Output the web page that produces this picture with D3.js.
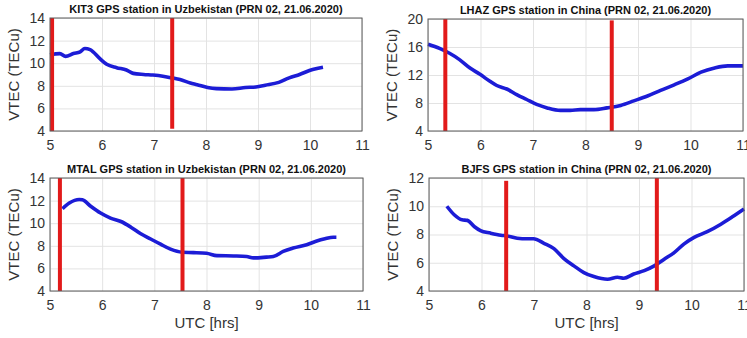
<!DOCTYPE html>
<html>
<head>
<meta charset="utf-8">
<script src="https://cdn.jsdelivr.net/npm/d3@7"></script>
<style>
  body { margin: 0; background: #fff; }
  svg { display: block; font-family: "Liberation Sans", Arial, sans-serif; }
  .grid line { stroke: #e3e3e3; stroke-width: 1; }
  .tick text { fill: #333; font-size: 14px; }
</style>
</head>
<body>
<script>
// KIT3 (Uzbekistan)
var kit3T = [5.0, 5.19, 5.3, 5.45, 5.58, 5.67, 5.77, 5.96, 6.09, 6.28, 6.47, 6.6, 6.8, 6.98, 7.17, 7.34, 7.5, 7.7, 7.83, 8.03, 8.2, 8.5, 8.76, 8.96, 9.14, 9.4, 9.6, 9.8, 10.05, 10.25];
var kit3V = [10.75, 10.85, 10.6, 10.85, 11.0, 11.3, 11.2, 10.4, 9.9, 9.6, 9.4, 9.1, 9.0, 8.95, 8.85, 8.7, 8.55, 8.25, 8.1, 7.85, 7.75, 7.72, 7.85, 7.9, 8.05, 8.3, 8.7, 9.0, 9.45, 9.65];
// LHAZ (China)
var lhazT = [5.0, 5.22, 5.41, 5.6, 5.8, 5.99, 6.18, 6.31, 6.5, 6.69, 6.88, 7.07, 7.27, 7.52, 7.71, 7.9, 8.16, 8.41, 8.67, 8.92, 9.18, 9.43, 9.69, 9.95, 10.2, 10.46, 10.71, 11.0];
var lhazV = [16.4, 15.8, 15.1, 14.2, 13.0, 12.1, 11.1, 10.5, 10.0, 9.2, 8.5, 7.8, 7.3, 6.94, 6.94, 7.05, 7.05, 7.3, 7.65, 8.3, 9.0, 9.8, 10.6, 11.45, 12.4, 13.0, 13.3, 13.3];
// MTAL (Uzbekistan)
var mtalT = [5.24, 5.37, 5.56, 5.62, 5.78, 5.97, 6.16, 6.36, 6.55, 6.74, 6.93, 7.12, 7.31, 7.53, 7.75, 8.0, 8.2, 8.52, 8.77, 8.9, 9.15, 9.28, 9.47, 9.66, 9.92, 10.1, 10.27, 10.43, 10.49];
var mtalV = [11.28, 11.78, 12.1, 12.07, 11.5, 10.9, 10.45, 10.15, 9.65, 9.06, 8.6, 8.14, 7.7, 7.43, 7.4, 7.34, 7.13, 7.1, 7.05, 6.93, 7.0, 7.05, 7.5, 7.8, 8.1, 8.4, 8.62, 8.76, 8.76];
// BJFS (China)
var bjfsT = [5.34, 5.48, 5.63, 5.73, 5.86, 5.98, 6.17, 6.37, 6.49, 6.68, 6.87, 6.99, 7.19, 7.38, 7.57, 7.76, 7.95, 8.14, 8.4, 8.59, 8.71, 8.9, 9.1, 9.29, 9.48, 9.67, 9.86, 10.05, 10.3, 10.56, 10.81, 11.0];
var bjfsV = [10.0, 9.4, 9.04, 9.0, 8.57, 8.28, 8.1, 7.95, 7.9, 7.74, 7.7, 7.7, 7.38, 7.0, 6.3, 5.78, 5.3, 5.02, 4.83, 4.97, 4.9, 5.2, 5.44, 5.78, 6.25, 6.72, 7.34, 7.8, 8.2, 8.73, 9.33, 9.8];

// red marker times [time, yFrom, yTo]
var kit3Marks = [[5.04, 4, 14], [7.35, 4.2, 14]];
var lhazMarks = [[5.33, 4, 20], [8.5, 4, 19.8]];
var mtalMarks = [[5.19, 4, 14], [7.54, 4, 14]];
var bjfsMarks = [[6.47, 4, 11.8], [9.34, 4, 12]];

var titles = [
  "KIT3 GPS station in Uzbekistan (PRN 02, 21.06.2020)",
  "LHAZ GPS station in China (PRN 02, 21.06.2020)",
  "MTAL GPS station in Uzbekistan (PRN 02, 21.06.2020)",
  "BJFS GPS station in China (PRN 02, 21.06.2020)"
];
var xTicks = [5, 6, 7, 8, 9, 10, 11];
var yTicksA = [4, 6, 8, 10, 12, 14];
var yTicksB = [4, 8, 12, 16, 20];
var yTicksC = [4, 6, 8, 10, 12];

var svgWidth = 747, svgHeight = 338;
var svg = d3.select("body").append("svg")
  .attr("width", svgWidth)
  .attr("height", svgHeight);

var panels = [
  {l: 50, r: 362, t: 18, b: 131, yDom: [4, 14], yTicks: yTicksA, T: kit3T, V: kit3V, marks: kit3Marks, title: titles[0], xlab: false},
  {l: 428, r: 743, t: 19, b: 131, yDom: [4, 20], yTicks: yTicksB, T: lhazT, V: lhazV, marks: lhazMarks, title: titles[1], xlab: false},
  {l: 50, r: 363, t: 178, b: 291, yDom: [4, 14], yTicks: yTicksA, T: mtalT, V: mtalV, marks: mtalMarks, title: titles[2], xlab: true},
  {l: 429, r: 744, t: 178, b: 291, yDom: [4, 12], yTicks: yTicksC, T: bjfsT, V: bjfsV, marks: bjfsMarks, title: titles[3], xlab: true}
];

panels.forEach(function(p) {
  var x = d3.scaleLinear().domain([5, 11]).range([p.l, p.r]);
  var y = d3.scaleLinear().domain(p.yDom).range([p.b, p.t]);
  var g = svg.append("g");

  // grid
  g.append("g").attr("class", "grid")
    .attr("transform", `translate(0,${p.b})`)
    .call(d3.axisBottom(x).tickValues(xTicks).tickSize(-(p.b - p.t)).tickFormat(""))
    .call(s => s.select(".domain").remove());
  g.append("g").attr("class", "grid")
    .attr("transform", `translate(${p.l},0)`)
    .call(d3.axisLeft(y).tickValues(p.yTicks).tickSize(-(p.r - p.l)).tickFormat(""))
    .call(s => s.select(".domain").remove());

  // data line
  var pts = p.T.map((t, i) => [t, p.V[i]]);
  g.append("path")
    .datum(pts)
    .attr("fill", "none")
    .attr("stroke", "#1c1cd6")
    .attr("stroke-width", 3.6)
    .attr("stroke-linejoin", "round")
    .attr("d", d3.line().x(d => x(d[0])).y(d => y(d[1])).curve(d3.curveMonotoneX));

  // red markers
  g.selectAll(".mark").data(p.marks).enter()
    .append("line")
    .attr("x1", d => x(d[0])).attr("x2", d => x(d[0]))
    .attr("y1", d => y(d[1])).attr("y2", d => y(d[2]))
    .attr("stroke", "#e21a1a")
    .attr("stroke-width", 4);

  // box
  g.append("rect")
    .attr("x", p.l).attr("y", p.t)
    .attr("width", p.r - p.l).attr("height", p.b - p.t)
    .attr("fill", "none").attr("stroke", "#5a5a5a").attr("stroke-width", 1);

  // axes
  g.append("g")
    .attr("transform", `translate(0,${p.b})`)
    .call(d3.axisBottom(x).tickValues(xTicks).tickFormat(d3.format("d")).tickSize(0).tickPadding(9))
    .call(s => s.select(".domain").remove());
  g.append("g")
    .attr("transform", `translate(${p.l},0)`)
    .call(d3.axisLeft(y).tickValues(p.yTicks).tickFormat(d3.format("d")).tickSize(0).tickPadding(5))
    .call(s => s.select(".domain").remove());

  // title
  g.append("text")
    .attr("x", (p.l + p.r) / 2).attr("y", p.t - 5)
    .attr("text-anchor", "middle")
    .attr("font-size", "11px").attr("font-weight", "bold")
    .attr("fill", "#111")
    .text(p.title);

  // y label
  g.append("text")
    .attr("transform", `translate(${p.l - 31},${(p.t + p.b) / 2}) rotate(-90)`)
    .attr("text-anchor", "middle")
    .attr("font-size", "15px")
    .attr("fill", "#333")
    .text("VTEC (TECu)");

  if (p.xlab) {
    g.append("text")
      .attr("x", (p.l + p.r) / 2).attr("y", p.b + 37)
      .attr("text-anchor", "middle")
      .attr("font-size", "15px")
      .attr("fill", "#333")
      .text("UTC [hrs]");
  }
});
</script>
</body>
</html>
